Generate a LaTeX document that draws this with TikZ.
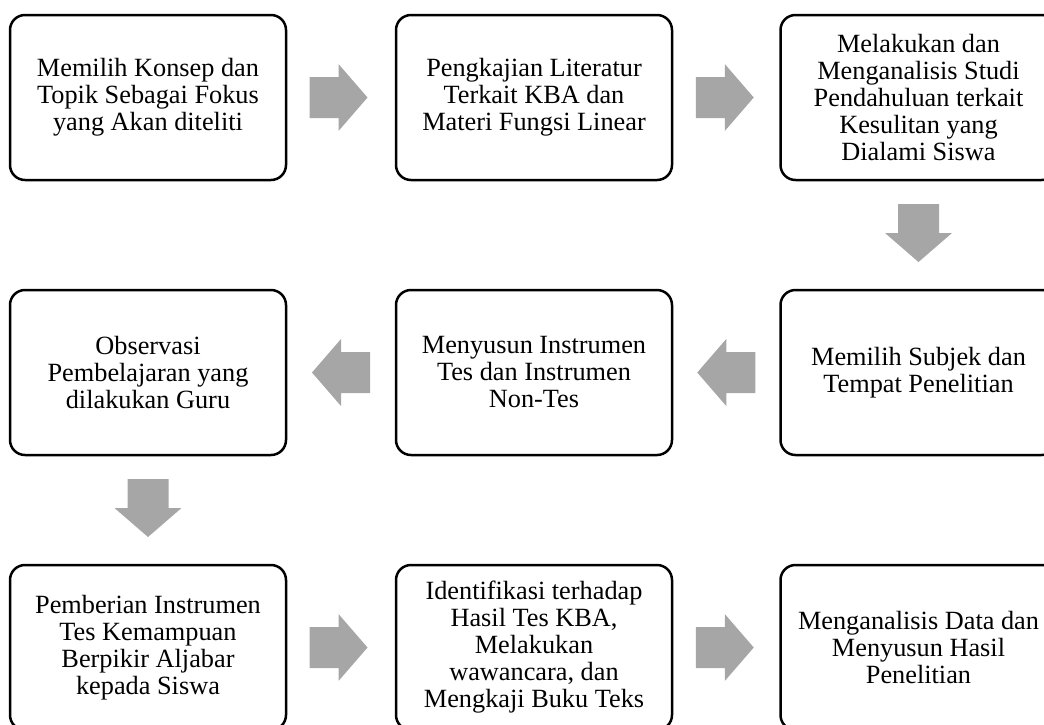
\documentclass[tikz,border=0pt]{standalone}
\usepackage{fontspec}
\setmainfont{Liberation Serif}
\usetikzlibrary{calc}
\definecolor{arrowgray}{HTML}{A6A6A6}
\tikzset{
  stepbox/.style={draw=black, line width=2.5pt, rounded corners=15pt,
    minimum width=276pt, minimum height=165pt, align=center, inner sep=0pt,
    font=\fontsize{26.3}{27}\selectfont, text=black},
  pics/rarr/.style={code={\fill[arrowgray] (-29,-20.5) -- (0,-20.5) -- (0,-33.5) -- (29,0) -- (0,33.5) -- (0,20.5) -- (-29,20.5) -- cycle;}},
  pics/larr/.style={code={\fill[arrowgray] (29,-20.5) -- (0,-20.5) -- (0,-33.5) -- (-29,0) -- (0,33.5) -- (0,20.5) -- (29,20.5) -- cycle;}},
  pics/darr/.style={code={\fill[arrowgray] (-20.5,-29) -- (20.5,-29) -- (20.5,0) -- (33.5,0) -- (0,29) -- (-33.5,0) -- (-20.5,0) -- cycle;}}
}
\begin{document}
\begin{tikzpicture}[x=1pt,y=-1pt]
\useasboundingbox (0,0) rectangle (1044,724);
\clip (0,0) rectangle (1044,724);
\node[stepbox] (a1) at (148,97.5) {Memilih Konsep dan\\Topik Sebagai Fokus\\yang Akan diteliti};
\node[stepbox] (a2) at (534,97.5) {Pengkajian Literatur\\Terkait KBA dan\\Materi Fungsi Linear};
\node[stepbox] (a3) at (918.5,97.5) {Melakukan dan\\Menganalisis Studi\\Pendahuluan terkait\\Kesulitan yang\\Dialami Siswa};
\node[stepbox] (b3) at (918.5,372.5) {Memilih Subjek dan\\Tempat Penelitian};
\node[stepbox] (b2) at (534,372.5) {Menyusun Instrumen\\Tes dan Instrumen\\Non-Tes};
\node[stepbox] (b1) at (148,372.5) {Observasi\\Pembelajaran yang\\dilakukan Guru};
\node[stepbox] (c1) at (148,647.5) {Pemberian Instrumen\\Tes Kemampuan\\Berpikir Aljabar\\kepada Siswa};
\node[stepbox] (c2) at (534,647.5) {Identifikasi terhadap\\Hasil Tes KBA,\\Melakukan\\wawancara, dan\\Mengkaji Buku Teks};
\node[stepbox] (c3) at (918.5,647.5) {Menganalisis Data dan\\Menyusun Hasil\\Penelitian};
\pic at ($(a1.east)!0.5!(a2.west)+(-2.5,0)$) {rarr};
\pic at ($(a2.east)!0.5!(a3.west)+(-1.5,0)$) {rarr};
\pic at ($(a3.south)!0.5!(b3.north)+(0,-2)$) {darr};
\pic at ($(b3.west)!0.5!(b2.east)$) {larr};
\pic at ($(b2.west)!0.5!(b1.east)$) {larr};
\pic at ($(b1.south)!0.5!(c1.north)+(0,-2)$) {darr};
\pic at ($(c1.east)!0.5!(c2.west)+(-2.5,0)$) {rarr};
\pic at ($(c2.east)!0.5!(c3.west)+(-1.5,0)$) {rarr};
\end{tikzpicture}
\end{document}
